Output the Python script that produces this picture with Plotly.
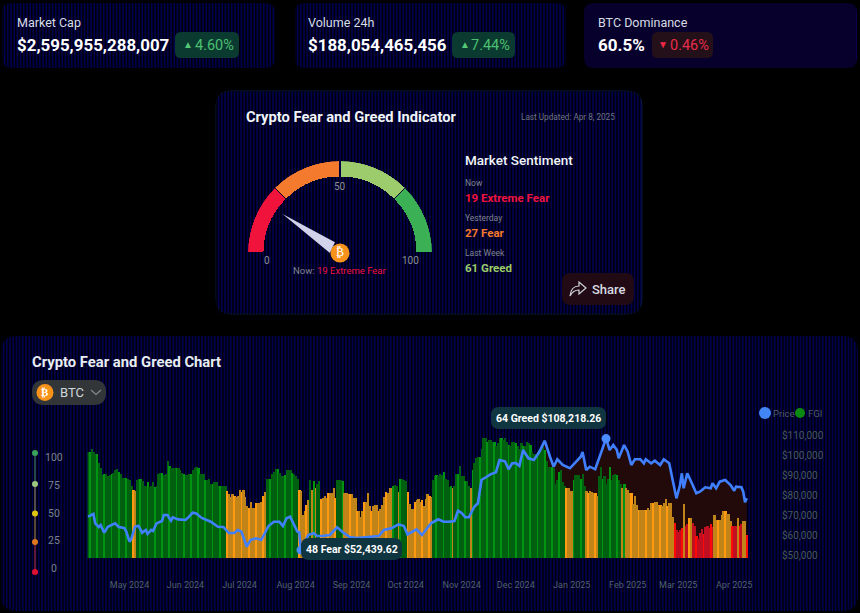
import pandas as pd
import plotly.graph_objects as go

W, H = 860, 613
START = pd.Timestamp("2024-04-08")

fgi = [88,88,91,88,87,87,79,75,69,70,70,68,69,70,71,73,74,72,70,67,67,67,66,65,60,57,56,65,66,66,64,60,60,63,59,60,63,59,60,70,71,71,69,70,81,77,75,75,75,75,75,73,71,70,69,69,70,70,73,75,76,75,70,70,70,65,65,66,62,62,63,63,60,60,60,60,60,56,53,51,53,52,
       51,52,57,55,57,51,43,42,47,42,42,46,46,46,47,52,55,66,66,66,70,72,74,74,71,68,68,69,73,73,73,71,70,68,66,57,56,36,39,44,48,65,57,64,58,62,64,49,50,52,50,54,54,54,58,50,65,65,65,64,54,54,53,53,53,50,50,39,39,34,39,47,47,54,43,39,43,44,44,39,41,44,51,
       55,54,58,58,60,61,60,55,66,66,65,64,55,45,41,41,47,48,49,47,48,43,49,53,52,51,65,68,69,68,70,69,72,66,65,59,60,58,60,70,70,77,68,68,64,64,60,58,73,79,83,84,84,91,100,100,97,98,98,97,97,93,96,100,100,98,100,97,94,93,
       97,97,96,93,91,96,93,93,97,96,94,88,87,87,88,90,91,96,90,81,76,76,76,75,62,65,72,73,63,60,58,58,56,56,65,69,69,69,66,70,60,56,54,56,55,54,54,52,68,76,66,68,62,66,76,65,69,70,69,65,62,58,62,58,57,54,
       54,45,52,44,40,40,40,40,40,42,40,46,46,47,47,44,44,43,46,49,43,46,46,34,29,23,22,23,25,45,27,28,33,33,29,27,18,16,21,24,20,26,27,25,28,26,36,32,32,32,36,39,39,37,37,31,27,27,27,33,27,28,31,31,19]

price_days = [0,3,4,6,7,9,11,15,17,20,21,23,24,26,28,30,32,33,35,36,38,41,42,44,46,47,50,54,56,58,60,63,68,72,75,78,81,
              83,85,88,90,93,96,100,103,106,108,110,112,114,116,117,118,122,125,127,130,134,138,141,145,149,158,161,164,168,172,175,177,182,185,190,194,197,200,203,205,207,209,211,214,216,218,221,223,226,228,231,233,235,237,239,241,244,247,250,253,256,258,260,263,267,
              271,273,274,276,278,281,287,289,291,293,294,297,299,301,303,306,308,309,312,314,317,319,322,324,326,328,329,330,332,335,337,339,342,345,346,348,350,353,356,358,359,362,363,364,365]
prices = [69150,70500,65800,64000,65000,61150,64150,65800,64000,63500,62150,56650,58000,64150,64650,61150,62500,60500,62500,62000,65800,67000,70000,70000,67150,68800,67800,67500,69150,71150,70800,68500,66650,64150,64000,61000,61000,
          62500,61650,54150,57500,58350,57500,64500,66650,66650,64500,68350,69150,65000,61650,61500,52439.62,60000,60850,59500,59500,60000,63850,61500,59000,58500,59500,59500,62500,63350,65350,64500,60350,62850,60000,65850,67850,66650,66650,67000,72150,71000,68850,68850,74150,75850,87500,89150,90350,91350,97500,96850,92850,95850,96000,94500,102500,98350,97500,101500,107150,99000,94150,97850,95000,93350,
          97500,99150,101500,92500,94150,92850,108218.26,102500,105000,102500,98350,105000,101650,95000,97850,97850,95850,97850,95850,97150,95000,97850,95850,87500,78350,85000,90850,83350,90850,85000,80850,81650,83850,83350,85850,83350,86650,87500,85000,82150,84150,83850,81650,76350,78350]

marked_days = [287, 118]
marked_prices = [108218.26, 52439.62]

month_ticks = ["2024-05-01","2024-06-01","2024-07-01","2024-08-01","2024-09-01","2024-10-01","2024-11-01","2024-12-01","2025-01-01","2025-02-01","2025-03-01","2025-04-01"]
month_labels = ["May 2024","Jun 2024","Jul 2024","Aug 2024","Sep 2024","Oct 2024","Nov 2024","Dec 2024","Jan 2025","Feb 2025","Mar 2025","Apr 2025"]
price_ticks = [50000,60000,70000,80000,90000,100000,110000]
price_labels = ["$50,000","$60,000","$70,000","$80,000","$90,000","$100,000","$110,000"]
scale_labels = ["100","75","50","25","0"]

gauge_mid = [12.5, 37.5, 62.5, 87.5]
gauge_colors = ["#f0143c","#f47a2e","#9ccc6c","#3cb054"]
gauge_now = 19

def day(d):
    return (START + pd.Timedelta(days=d)).strftime("%Y-%m-%d")

dates = [day(i) for i in range(len(fgi))]
price_dates = [day(d) for d in price_days]

def bar_color(i, v):
    bright = i % 4 == 1
    if v >= 59:
        return "#009412" if bright else "#00600f"
    if v >= 30:
        return "#ff9a10" if bright else "#c08418"
    return "#ff0808" if bright else "#c00f20"

bar_colors = [bar_color(i, v) for i, v in enumerate(fgi)]

PX = lambda x: x / W
PY = lambda y: 1 - y / H
shapes, annos = [], []

def rrect(x0, y0, x1, y1, r, fill, line=None, layer="below"):
    a, b, c, d = PX(x0), PY(y0), PX(x1), PY(y1)
    rx, ry = r / W, r / H
    p = (f"M{a+rx},{b} L{c-rx},{b} Q{c},{b} {c},{b-ry} L{c},{d+ry} Q{c},{d} {c-rx},{d} "
         f"L{a+rx},{d} Q{a},{d} {a},{d+ry} L{a},{b-ry} Q{a},{b} {a+rx},{b} Z")
    shapes.append(dict(type="path", path=p, xref="paper", yref="paper", fillcolor=fill, layer=layer,
                       line=dict(color=line or "rgba(0,0,0,0)", width=1)))

def circle(cx, cy, r, fill, layer="above"):
    shapes.append(dict(type="circle", xref="paper", yref="paper", x0=PX(cx-r), x1=PX(cx+r), y0=PY(cy+r), y1=PY(cy-r),
                       fillcolor=fill, line=dict(width=0), layer=layer))

def pline(pts, color, width=1, layer="above"):
    p = "M" + " L".join(f"{PX(x)},{PY(y)}" for x, y in pts)
    shapes.append(dict(type="path", path=p, xref="paper", yref="paper", line=dict(color=color, width=width), layer=layer))

def text(x, y, s, size, color, anchor="left", bold=False, family="Roboto", weight="normal"):
    annos.append(dict(x=PX(x), y=PY(y), xref="paper", yref="paper", text=f"<b>{s}</b>" if bold else s, showarrow=False,
                      xanchor=anchor, yanchor="middle", align=anchor, borderpad=0, borderwidth=0,
                      font=dict(family=family, size=size, color=color, weight=weight)))

PANELS = [(2,3,275,68,"#00004e",10),(295,3,566,68,"#00004e",10),(584,3,857,68,"#0e0050",10),
          (216,91,642,314,"#00004e",15),(1,336,858,611,"#00004e",16)]
for x0,y0,x1,y1,c,r in PANELS:
    rrect(x0,y0,x1,y1,r,c, line="#061c34" if y0==91 else None)

for fine in (False, True):
    stripes = []
    for x0,y0,x1,y1,c,r in PANELS:
        if (x0 == 584) != fine:
            continue
        step = 2.0 if fine else 3.2
        x = x0 + 1.0
        while x < x1:
            stripes.append(f"M{PX(x):.5f},{PY(y0):.5f}V{PY(y1):.5f}")
            x += step
    shapes.append(dict(type="path", path="".join(stripes), xref="paper", yref="paper", layer="below",
                       line=dict(color="#000008", width=1.0 if fine else 1.5)))

# stat cards
text(17,22,"Market Cap",12.5,"#d8dde4")
text(17,45,"$2,595,955,288,007",16.9,"#ffffff",bold=True)
rrect(175,32,239,58,6,"#0b3a30")
text(183,44.5,"▲",10,"#55c878")
text(195,45,"4.60%",14.5,"#4cc070")
text(308,22,"Volume 24h",12.5,"#d8dde4")
text(308,45,"$188,054,465,456",16.9,"#ffffff",bold=True)
rrect(452,32,515,58,6,"#0b3a30")
text(460,44.5,"▲",10,"#55c878")
text(471,45,"7.44%",14.5,"#4cc070")
text(598,22,"BTC Dominance",12.5,"#d8dde4")
text(598,45,"60.5%",17,"#ffffff",bold=True)
rrect(652,32,713,58,6,"#241018")
text(658,44.5,"▼",10,"#f02848")
text(670,45,"0.46%",14.5,"#e82c4c")

# indicator panel
text(246,116.5,"Crypto Fear and Greed Indicator",14.7,"#f0f4f8",bold=True)
text(521,116.5,"Last Updated: Apr 8, 2025",8.2,"#70757e")
text(465,160,"Market Sentiment",13.5,"#f0f4f8",weight=500)
text(465,183,"Now",8.5,"#80858e")
text(465,197.5,"19 Extreme Fear",11.5,"#f0143c",bold=True)
text(465,218,"Yesterday",8.5,"#80858e")
text(465,233,"27 Fear",11.5,"#f47a2e",bold=True)
text(465,253,"Last Week",8.5,"#80858e")
text(465,268,"61 Greed",11.5,"#9ccc6c",bold=True)
text(267,261,"0",10,"#8c9096","center")
text(340,186,"50",10,"#8c9096","center")
text(410,261,"100",10,"#8c9096","center")
text(340,270.5,'Now: <span style="color:#f0143c">19 Extreme Fear</span>',9.5,"#80858e","center")
rrect(562,273,634,305,9,"#220a14")
shapes.append(dict(type="path", xref="paper", yref="paper", layer="above", line=dict(color="#d0d4da", width=1.2),
    path=" ".join([f"M{PX(570)},{PY(296)}", f"Q{PX(571)},{PY(286)} {PX(579)},{PY(286)}", f"L{PX(579)},{PY(282)}",
                   f"L{PX(586)},{PY(288)}", f"L{PX(579)},{PY(294)}", f"L{PX(579)},{PY(290)}",
                   f"Q{PX(573)},{PY(290)} {PX(570)},{PY(296)}", "Z"])))
text(592,289,"Share",13,"#d8dce2",weight=500)

# chart panel
text(32,362,"Crypto Fear and Greed Chart",14.8,"#e8edf2",bold=True)
rrect(32,380,106,405,12,"#333638")
circle(45,392.5,8.5,"#f7931a")
text(45,392.5,"₿",11,"#ffffff","center",True,"DejaVu Sans")
text(60,392.5,"BTC",13,"#d0d6dc")
pline([(91,390),(96,394.5),(101,390)],"#7f8a90",1.2)

circle(765,413,6,"#4285f4")
text(773,413,"Price",9.5,"#505c62")
circle(800,413,5,"#0a8a10")
text(808,413,"FGI",9.5,"#505c62")

scale_ys = [453,484,513.5,542,572]
scale_cols = ["#3aa35a","#9cc880","#e0c810","#e07820","#e01030"]
label_ys = [457,485,513,540,568]
for i in range(4):
    pline([(35,scale_ys[i]),(35,scale_ys[i+1])],["#4e8a68","#a09a60","#b08a40","#c03040"][i],1)
for y,c in zip(scale_ys,scale_cols):
    circle(35,y,3,c)
for s,y in zip(scale_labels,label_ys):
    text(53.5,y,s,10.5,"#7a838c","center")

# callouts
rrect(491,407,606,429,8,"#0f3540",layer="above")
text(548.5,418,"64 Greed $108,218.26",10.5,"#ffffff","center",True)
rrect(301,538,402,560,8,"#0f3540",layer="above")
text(351.5,549,"48 Fear $52,439.62",10.5,"#ffffff","center",True)

fig = go.Figure()
fig.add_trace(go.Scatter(x=price_dates, y=prices, mode="none", fill="tozeroy", fillcolor="#220a0a",
                         xaxis="x", yaxis="y", hoverinfo="skip", name="Price area"))
fig.add_trace(go.Bar(x=dates, y=fgi, marker=dict(color=bar_colors, line=dict(width=0)), width=86400000*1.02,
                     xaxis="x", yaxis="y2", name="FGI"))
fig.add_trace(go.Scatter(x=price_dates, y=prices, mode="lines", line=dict(color="#4080ff", width=2.6),
                         xaxis="x", yaxis="y3", name="Price"))
fig.add_trace(go.Scatter(x=[day(d) for d in marked_days], y=marked_prices, mode="markers",
                         marker=dict(color="#4a8cff", size=9), xaxis="x", yaxis="y3", cliponaxis=False, name="Marked"))

# gauge
fig.add_trace(go.Barpolar(theta=[180 - 1.8 * v for v in gauge_mid], r=[0.168] * 4, base=[0.832] * 4, width=[44.2] * 4,
                          marker=dict(color=gauge_colors, line=dict(width=0)), subplot="polar"))
needle_r = [0.755, 0.13, 0.11, 0.755]
needle_theta = [180 - 1.8 * gauge_now, 115, 180, 180 - 1.8 * gauge_now]
fig.add_trace(go.Scatterpolar(r=needle_r, theta=needle_theta, mode="none", fill="toself", fillcolor="#d2d2ea",
                              subplot="polar"))
fig.add_trace(go.Scatterpolar(r=[0], theta=[0], mode="markers+text", text=["₿"], textposition="middle center",
                              textfont=dict(family="DejaVu Sans", size=12, color="#ffffff"),
                              marker=dict(color="#f7931a", size=19), cliponaxis=False, subplot="polar"))

px_per_day = 1.805
xr = [START + pd.Timedelta(days=(87.5 - 88) / px_per_day), START + pd.Timedelta(days=(749 - 88) / px_per_day)]
fig.update_layout(
    width=W, height=H, margin=dict(l=0, r=0, t=0, b=0, autoexpand=False), autosize=False,
    paper_bgcolor="#000000", plot_bgcolor="rgba(0,0,0,0)", showlegend=False, bargap=0,
    font=dict(family="Roboto"), shapes=shapes, annotations=annos,
    xaxis=dict(domain=[PX(87.5), PX(749)], range=[str(xr[0]), str(xr[1])], type="date", tickvals=month_ticks,
               ticktext=month_labels, tickangle=0, showgrid=False, zeroline=False, showline=False, ticks="",
               ticklabelstandoff=20, tickfont=dict(family="Roboto", size=9, color="#52606a")),
    yaxis=dict(domain=[PY(558), PY(430)], range=[48500, 112500], visible=False),
    yaxis2=dict(domain=[PY(558), PY(430)], range=[0, 106.67], overlaying="y", visible=False),
    yaxis3=dict(domain=[PY(558), PY(430)], range=[48500, 112500], overlaying="y", side="right", anchor="x",
                tickvals=price_ticks, ticktext=price_labels, showgrid=False, zeroline=False, showline=False, ticks="",
                ticklabelstandoff=32, tickfont=dict(family="Roboto", size=10, color="#465a58")),
    polar=dict(domain=dict(x=[PX(248), PX(432)], y=[PY(253), PY(161)]), sector=[0, 180],
               bgcolor="rgba(0,0,0,0)",
               radialaxis=dict(visible=False, range=[0, 1]),
               angularaxis=dict(visible=False)),
)
fig.write_html("out.html", config={"displayModeBar": False},
               post_script="document.body.style.margin='0';document.body.style.background='#000';document.documentElement.style.overflow='hidden';")
